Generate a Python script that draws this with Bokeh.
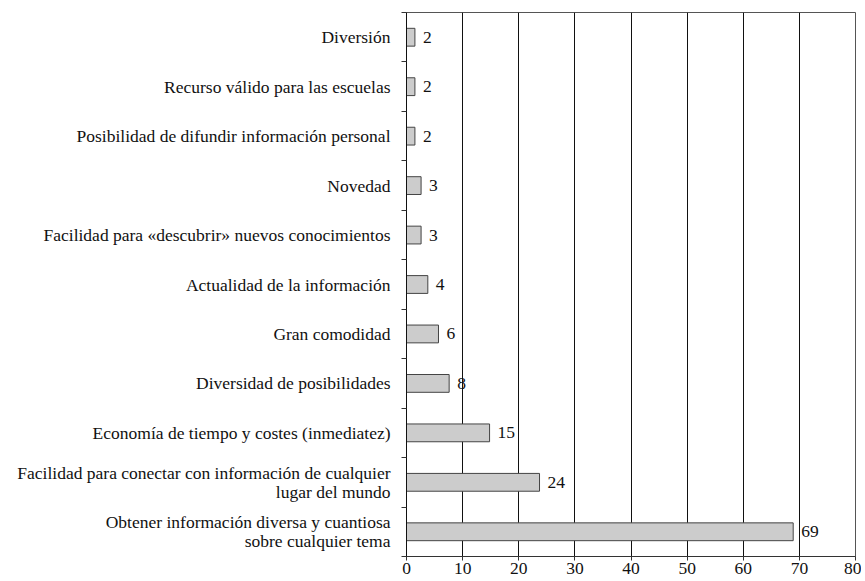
from bokeh.plotting import figure
from bokeh.models import FixedTicker, ColumnDataSource
from bokeh.embed import file_html
from bokeh.resources import INLINE

# top to bottom
categories = [
    "Diversión",
    "Recurso válido para las escuelas",
    "Posibilidad de difundir información personal",
    "Novedad",
    "Facilidad para «descubrir» nuevos conocimientos",
    "Actualidad de la información",
    "Gran comodidad",
    "Diversidad de posibilidades",
    "Economía de tiempo y costes (inmediatez)",
    "Facilidad para conectar con información de cualquier\nlugar del mundo",
    "Obtener información diversa y cuantiosa\nsobre cualquier tema",
]
values = [1.5, 1.5, 1.5, 2.6, 2.6, 3.8, 5.7, 7.6, 14.8, 23.7, 68.9]
value_labels = ["2", "2", "2", "3", "3", "4", "6", "8", "15", "24", "69"]
x_ticks = [0, 10, 20, 30, 40, 50, 60, 70, 80]

n = len(categories)
ypos = [n - i - 0.5 for i in range(n)]

src = ColumnDataSource(dict(y=ypos, v=values, lab=value_labels))

FONT = "Liberation Serif"
FS = "17.5px"

p = figure(frame_width=449, frame_height=544, x_range=(0, 80), y_range=(0, n),
           output_backend="svg", toolbar_location=None,
           min_border_left=406, min_border_right=6,
           min_border_top=12, min_border_bottom=24)

p.hbar(y="y", right="v", left=0, height=0.36, source=src,
       fill_color="#cccccc", line_color="#444444", line_width=1)
p.text(x="v", y="y", text="lab", source=src, x_offset=8,
       text_align="left", text_baseline="middle",
       text_font=FONT, text_font_size=FS, text_color="#111111")

# x axis
p.xaxis.ticker = FixedTicker(ticks=x_ticks)
p.xaxis.major_label_text_font = FONT
p.xaxis.major_label_text_font_size = FS
p.xaxis.major_label_text_color = "#111111"
p.xaxis.major_tick_out = 4
p.xaxis.major_tick_in = 0
p.xaxis.minor_tick_out = 0
p.xaxis.minor_tick_in = 0
p.xaxis.axis_line_color = "#333333"
p.xaxis.major_tick_line_color = "#333333"
p.xaxis.major_label_standoff = 2

# y axis: labels at category centres, small ticks at boundaries
p.yaxis.ticker = FixedTicker(ticks=ypos, minor_ticks=list(range(n + 1)))
p.yaxis.major_label_overrides = {y: c for y, c in zip(ypos, categories)}
p.yaxis.major_label_text_font = FONT
p.yaxis.major_label_text_font_size = FS
p.yaxis.major_label_text_color = "#111111"
p.yaxis.major_label_text_line_height = 0.95
p.yaxis.major_tick_out = 0
p.yaxis.major_tick_in = 0
p.yaxis.minor_tick_out = 5
p.yaxis.minor_tick_in = 0
p.yaxis.minor_tick_line_color = "#333333"
p.yaxis.axis_line_color = "#111111"
p.yaxis.major_label_standoff = 11

p.xgrid.ticker = FixedTicker(ticks=x_ticks)
p.xgrid.grid_line_color = "#111111"
p.xgrid.grid_line_alpha = 1.0
p.ygrid.grid_line_color = None

p.outline_line_color = "#555555"
p.outline_line_width = 1
p.background_fill_color = "white"
p.border_fill_color = "white"

open("out.html", "w").write(file_html(p, INLINE))
